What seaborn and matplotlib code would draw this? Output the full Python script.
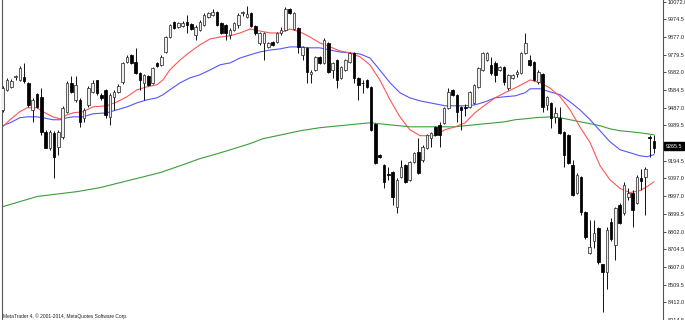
import numpy as np
import matplotlib
matplotlib.use("Agg")
import matplotlib.pyplot as plt
import seaborn as sns

# ---- candle data ----
opens = [9475, 9585, 9602, 9657, 9640, 9657, 9624, 9475, 9563, 9547,
         9354, 9266, 9348, 9271, 9326, 9464, 9624, 9530, 9530, 9431,
         9502, 9574, 9640, 9558, 9585, 9436, 9547, 9574, 9629, 9739,
         9778, 9739, 9679, 9624, 9662, 9624, 9734, 9723, 9794, 9877,
         9960, 9932, 9938, 9960, 9949, 9888, 9916, 9943, 9987, 9998,
         10015, 9954, 9943, 9888, 9916, 9943, 10009, 9987, 10009, 9938,
         9844, 9844, 9822, 9850, 9850, 9899, 9916, 10031, 9921, 9927,
         9778, 9817, 9673, 9695, 9767, 9734, 9844, 9695, 9750, 9651,
         9695, 9739, 9789, 9651, 9624, 9640, 9602, 9398, 9227, 9172,
         9117, 9133, 8940, 9106, 9172, 9089, 9188, 9243, 9199, 9266,
         9321, 9381, 9392, 9403, 9486, 9585, 9558, 9491, 9491, 9491,
         9513, 9602, 9695, 9750, 9723, 9734, 9695, 9712, 9596, 9651,
         9673, 9679, 9789, 9750, 9739, 9629, 9673, 9502, 9513, 9436,
         9431, 9354, 9337, 9172, 9018, 9106, 8913, 8687, 8748, 8825,
         8621, 8577, 8858, 8731, 8951, 8907, 8996, 9018, 8962, 9100,
         9106, 9326, 9304]
closes = [9596, 9640, 9635, 9662, 9706, 9635, 9502, 9530, 9491, 9354,
          9266, 9354, 9216, 9354, 9486, 9624, 9574, 9613, 9409, 9475,
          9596, 9624, 9569, 9541, 9447, 9558, 9574, 9607, 9734, 9767,
          9734, 9679, 9640, 9668, 9613, 9706, 9717, 9767, 9877, 9943,
          9927, 9954, 9954, 9943, 9921, 9932, 9960, 9998, 10009, 10015,
          9943, 9899, 9899, 9916, 9954, 9998, 10010, 10004, 9938, 9899,
          9899, 9899, 9844, 9833, 9899, 9916, 10031, 10009, 10009, 9822,
          9822, 9684, 9684, 9767, 9734, 9861, 9684, 9734, 9640, 9712,
          9750, 9789, 9651, 9613, 9622, 9602, 9365, 9183, 9216, 9078,
          9115, 8996, 9089, 9161, 9078, 9188, 9238, 9128, 9271, 9337,
          9348, 9337, 9337, 9486, 9574, 9558, 9464, 9475, 9486, 9574,
          9613, 9706, 9789, 9789, 9679, 9668, 9712, 9629, 9668, 9668,
          9684, 9789, 9844, 9723, 9640, 9684, 9491, 9547, 9431, 9458,
          9348, 9227, 9183, 9007, 9117, 8913, 8770, 8720, 8797, 8632,
          8577, 8814, 8759, 8935, 8852, 9062, 9018, 8924, 9106, 9084,
          9150, 9321, 9265.5]
highs = [9607, 9651, 9646, 9668, 9717, 9734, 9629, 9541, 9569, 9596,
         9365, 9365, 9359, 9365, 9497, 9635, 9662, 9662, 9541, 9486,
         9607, 9640, 9640, 9569, 9591, 9569, 9585, 9618, 9739, 9778,
         9783, 9817, 9684, 9673, 9668, 9712, 9739, 9778, 9883, 9949,
         9965, 9960, 9965, 9998, 9954, 9943, 9971, 10009, 10015, 10031,
         10020, 9960, 9949, 9927, 9960, 10009, 10020, 10048, 10015, 9943,
         9905, 9905, 9850, 9855, 9905, 9932, 10042, 10037, 10015, 9932,
         9828, 9822, 9695, 9772, 9772, 9872, 9850, 9739, 9756, 9717,
         9756, 9794, 9794, 9657, 9640, 9646, 9607, 9403, 9232, 9177,
         9161, 9139, 9100, 9199, 9177, 9194, 9243, 9321, 9282, 9343,
         9354, 9387, 9409, 9491, 9596, 9591, 9563, 9497, 9508, 9580,
         9618, 9712, 9794, 9794, 9767, 9745, 9717, 9717, 9673, 9673,
         9695, 9794, 9899, 9778, 9745, 9695, 9679, 9552, 9519, 9491,
         9491, 9359, 9343, 9199, 9128, 9111, 8918, 8869, 8869, 8830,
         8626, 8830, 8880, 8940, 8962, 9078, 9045, 9034, 9117, 9150,
         9161, 9337, 9337]
lows = [9464, 9580, 9596, 9640, 9635, 9624, 9491, 9409, 9486, 9337,
        9262, 9254, 9100, 9227, 9315, 9458, 9569, 9519, 9381, 9409,
        9491, 9569, 9558, 9530, 9431, 9392, 9475, 9569, 9618, 9734,
        9728, 9673, 9585, 9530, 9607, 9618, 9712, 9717, 9789, 9872,
        9921, 9927, 9932, 9899, 9916, 9861, 9910, 9938, 9982, 9993,
        9938, 9894, 9861, 9866, 9910, 9927, 9993, 9982, 9932, 9888,
        9833, 9750, 9817, 9828, 9844, 9888, 9910, 10004, 9916, 9789,
        9750, 9624, 9624, 9690, 9728, 9728, 9679, 9651, 9596, 9646,
        9690, 9734, 9624, 9530, 9569, 9596, 9359, 9177, 9210, 9045,
        9089, 8951, 8907, 9100, 9073, 9084, 9183, 9122, 9188, 9260,
        9271, 9332, 9271, 9398, 9480, 9552, 9409, 9365, 9442, 9486,
        9508, 9596, 9690, 9745, 9668, 9629, 9690, 9613, 9585, 9646,
        9657, 9673, 9783, 9717, 9635, 9618, 9464, 9475, 9376, 9403,
        9343, 9161, 9177, 9001, 9012, 8896, 8764, 8680, 8714, 8626,
        8356, 8483, 8753, 8648, 8847, 8896, 8979, 8830, 8957, 9034,
        8896, 9216, 9238]

# ---- moving averages (at bar positions) ----
red_x = [0, 1.7, 4.0, 5.7, 8.0, 9.4, 11.7, 13.4, 15.0, 16.4, 18.7, 21.1, 24.3, 26.7,
         29.0, 31.3, 33.7, 36.0, 37.4, 39.0, 41.4, 43.7, 46.0, 48.4, 50.7, 53.1, 55.4,
         57.7, 60.0, 62.4, 64.7, 67.0, 69.4, 71.7, 74.0, 76.4, 78.7, 81.0, 83.4, 85.7,
         88.0, 90.4, 92.7, 95.0, 97.4, 100.9, 103.2, 105.6, 107.9, 110.2, 112.6, 114.9,
         117.2, 119.6, 121.9, 123.1, 125.4, 127.7, 130.1, 132.4, 134.7, 137.1, 139.4,
         141.7, 144.1, 146.4, 148.7, 150.4, 152.0]
red_v = [9381, 9420, 9464, 9486, 9486, 9464, 9436, 9425, 9447, 9458, 9464, 9491, 9497, 9519,
         9547, 9585, 9602, 9613, 9640, 9695, 9750, 9794, 9833, 9866, 9877, 9883, 9899,
         9921, 9910, 9899, 9899, 9921, 9905, 9877, 9844, 9822, 9800, 9789, 9767, 9723,
         9640, 9530, 9436, 9365, 9332, 9332, 9365, 9381, 9403, 9458, 9502, 9541,
         9569, 9596, 9624, 9640, 9624, 9596, 9547, 9475, 9381, 9293, 9166,
         9089, 9040, 9018, 9029, 9051, 9078]
blue_x = red_x
blue_v = [9387, 9403, 9431, 9436, 9436, 9431, 9420, 9420, 9431, 9436, 9436, 9453, 9458, 9475,
          9491, 9513, 9530, 9541, 9558, 9585, 9624, 9651, 9668, 9695, 9723, 9734, 9761,
          9778, 9794, 9805, 9811, 9822, 9822, 9817, 9817, 9805, 9794, 9789, 9783, 9761,
          9695, 9624, 9569, 9541, 9524, 9508, 9497, 9497, 9497, 9502, 9519, 9541,
          9547, 9552, 9569, 9591, 9591, 9574, 9558, 9519, 9475, 9420, 9359,
          9299, 9254, 9238, 9221, 9216, 9227]
green_x = [0, 4.0, 8.0, 11.7, 17.3, 22.7, 27.4, 32.0, 36.7, 41.4, 46.0, 50.0, 53.1, 57.7,
           60.7, 66.3, 69.4, 74.0, 78.7, 83.4, 85.7, 90.4, 95.0, 100.9, 105.6, 107.9,
           110.2, 112.6, 114.9, 117.2, 119.6, 121.9, 124.2, 127.7, 130.1, 132.4, 134.7,
           137.1, 139.4, 141.7, 144.1, 146.4, 148.7, 152.0]
green_v = [8940, 8968, 8996, 9007, 9023, 9045, 9073, 9100, 9128, 9166, 9205, 9232, 9254, 9288,
           9315, 9343, 9359, 9376, 9387, 9398, 9403, 9392, 9381, 9381, 9381, 9387,
           9392, 9398, 9403, 9409, 9420, 9425, 9431, 9436, 9431, 9420, 9409,
           9398, 9387, 9370, 9359, 9354, 9348, 9337]

tick_labels = ["10072.0", "9974.5", "9877.0", "9779.5", "9682.0", "9584.5", "9487.0",
               "9389.5", "9194.5", "9097.0", "8997.0", "8899.5", "8802.0",
               "8704.5", "8607.0", "8509.5", "8412.0", "8314.5"]
last_price_label = "9265.5"
footer = "MetaTrader 4, \u00a9 2001-2014, MetaQuotes Software Corp."

# ---- plotting ----
sns.set_style("white")
plt.rcParams["font.family"] = ["Liberation Sans", "DejaVu Sans"]

W, H = 685, 320
fig = plt.figure(figsize=(W / 100, H / 100), dpi=100)
fig.patch.set_facecolor("white")
ax = fig.add_axes([2 / W, 0, 661 / W, 1])
ax.set_facecolor("white")

o = np.array(opens, float); c = np.array(closes, float)
h = np.array(highs, float); l = np.array(lows, float)
idx = np.arange(len(o))

# moving averages
sns.lineplot(x=green_x, y=green_v, ax=ax, color="#3a9e3a", linewidth=0.8, zorder=2)
sns.lineplot(x=blue_x, y=blue_v, ax=ax, color="#5555ff", linewidth=0.8, zorder=2)
sns.lineplot(x=red_x, y=red_v, ax=ax, color="#ff5555", linewidth=0.8, zorder=2)

# wicks
ax.vlines(idx, l, h, color="#111111", linewidth=0.7, zorder=3)
bull = c >= o
bottom = np.minimum(o, c)
height = np.maximum(np.abs(c - o), 3)
ax.bar(idx[bull], height[bull], bottom=bottom[bull], width=0.6,
       facecolor="#eeeeee", edgecolor="#333333", linewidth=0.55, zorder=4)
ax.bar(idx[~bull], height[~bull], bottom=bottom[~bull], width=0.6,
       facecolor="black", edgecolor="black", linewidth=0.55, zorder=4)

# axes limits (pixel mapping: price = 10081 - 5.51 * y)
ax.set_xlim(-0.16, 154.1)
ax.set_ylim(10081 - 5.51 * H, 10081)

ticks = [float(t) for t in tick_labels]
ax.yaxis.tick_right()
ax.set_yticks(ticks)
ax.set_yticklabels(tick_labels)
ax.tick_params(axis="y", direction="out", length=2, width=0.6, colors="#333333",
               labelsize=4.0, pad=1.2, labelcolor="#222222")
ax.set_xticks([])
for s in ["top", "bottom"]:
    ax.spines[s].set_visible(False)
ax.spines["left"].set_color("#555555")
ax.spines["left"].set_linewidth(0.8)
ax.spines["right"].set_color("#555555")
ax.spines["right"].set_linewidth(0.8)

# current price box
ax.text(1.004, closes[-1] + 8, last_price_label, transform=ax.get_yaxis_transform(),
        ha="left", va="center", fontsize=4.0, color="white", clip_on=False, zorder=10,
        bbox=dict(boxstyle="square,pad=0.25", facecolor="black", edgecolor="black"))

fig.text(3 / W, 1 / H, footer, fontsize=3.5, color="#222222", ha="left", va="bottom")

fig.savefig("out.png", dpi=100, facecolor="white")
